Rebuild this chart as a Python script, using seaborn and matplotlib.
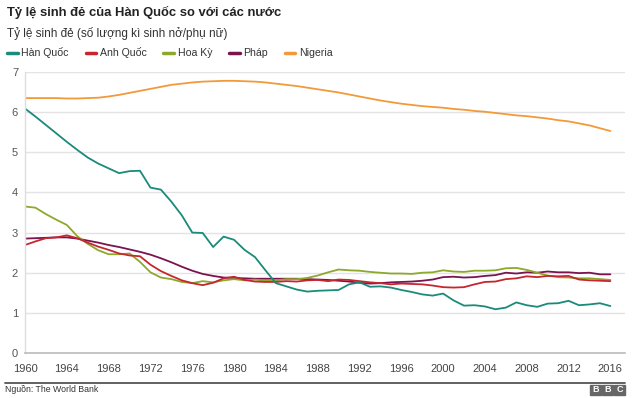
import pandas as pd
import seaborn as sns
from matplotlib import pyplot as plt
from matplotlib.patches import Rectangle
from matplotlib.lines import Line2D

# years and fertility rates (births per woman)
years = list(range(1960, 2017))

han_quoc = [6.09, 5.89, 5.68, 5.47, 5.26, 5.06, 4.87, 4.72, 4.60, 4.48,
            4.53, 4.54, 4.12, 4.07, 3.77, 3.43, 3.00, 2.99, 2.64, 2.90,
            2.82, 2.57, 2.39, 2.06, 1.74, 1.66, 1.58, 1.53, 1.55, 1.56,
            1.57, 1.71, 1.76, 1.65, 1.66, 1.63, 1.57, 1.52, 1.46, 1.43,
            1.48, 1.31, 1.18, 1.19, 1.16, 1.09, 1.13, 1.26, 1.19, 1.15,
            1.23, 1.24, 1.30, 1.19, 1.21, 1.24, 1.17]

anh_quoc = [2.69, 2.78, 2.86, 2.88, 2.93, 2.86, 2.75, 2.65, 2.57, 2.48,
            2.43, 2.41, 2.20, 2.04, 1.92, 1.81, 1.74, 1.69, 1.75, 1.86,
            1.90, 1.82, 1.78, 1.77, 1.77, 1.79, 1.78, 1.81, 1.82, 1.79,
            1.83, 1.82, 1.79, 1.76, 1.74, 1.71, 1.73, 1.72, 1.71, 1.68,
            1.64, 1.63, 1.64, 1.71, 1.77, 1.78, 1.84, 1.86, 1.91, 1.89,
            1.92, 1.91, 1.92, 1.83, 1.81, 1.80, 1.79]

hoa_ky = [3.65, 3.62, 3.46, 3.32, 3.19, 2.91, 2.72, 2.56, 2.46, 2.46,
          2.48, 2.27, 2.01, 1.88, 1.84, 1.77, 1.74, 1.79, 1.76, 1.81,
          1.84, 1.81, 1.83, 1.80, 1.81, 1.84, 1.84, 1.87, 1.93, 2.01,
          2.08, 2.06, 2.05, 2.02, 2.00, 1.98, 1.98, 1.97, 2.00, 2.01,
          2.06, 2.03, 2.02, 2.05, 2.05, 2.06, 2.11, 2.12, 2.07, 2.00,
          1.93, 1.89, 1.88, 1.86, 1.86, 1.84, 1.82]

phap = [2.85, 2.86, 2.87, 2.88, 2.88, 2.85, 2.80, 2.75, 2.69, 2.64,
        2.58, 2.52, 2.45, 2.36, 2.26, 2.15, 2.05, 1.97, 1.92, 1.88,
        1.87, 1.86, 1.85, 1.85, 1.85, 1.85, 1.85, 1.84, 1.83, 1.82,
        1.80, 1.78, 1.75, 1.73, 1.74, 1.76, 1.77, 1.78, 1.80, 1.83,
        1.89, 1.90, 1.88, 1.89, 1.92, 1.94, 2.00, 1.98, 2.01, 2.00,
        2.03, 2.01, 2.01, 1.99, 2.00, 1.96, 1.96]

nigeria = [6.35, 6.35, 6.35, 6.35, 6.34, 6.34, 6.35, 6.36, 6.39, 6.43,
           6.48, 6.53, 6.58, 6.63, 6.68, 6.71, 6.74, 6.76, 6.77, 6.78,
           6.78, 6.77, 6.76, 6.74, 6.71, 6.68, 6.65, 6.61, 6.57, 6.53,
           6.49, 6.44, 6.39, 6.34, 6.29, 6.25, 6.21, 6.18, 6.15, 6.13,
           6.11, 6.08, 6.06, 6.03, 6.01, 5.98, 5.95, 5.92, 5.90, 5.87,
           5.84, 5.80, 5.77, 5.72, 5.67, 5.60, 5.53]

countries = ['Hàn Quốc', 'Anh Quốc', 'Hoa Kỳ', 'Pháp', 'Nigeria']
colors = ['#1a8a7a', '#c6262e', '#8ea82c', '#7a1350', '#f29a3a']
x_ticks = list(range(1960, 2017, 4))
y_ticks = list(range(0, 8))

# long form table for seaborn
series = [han_quoc, anh_quoc, hoa_ky, phap, nigeria]
rows = []
for name, vals in zip(countries, series):
    for yr, v in zip(years, vals):
        rows.append({'year': yr, 'rate': v, 'country': name})
df = pd.DataFrame(rows)

sns.set_style('white')
plt.rcParams['font.family'] = ['Liberation Sans', 'DejaVu Sans']

fig = plt.figure(figsize=(6.4, 3.98), dpi=100)
ax = fig.add_axes([25/640, 1 - 353/398, 600/640, 281/398])

# draw in reverse so Korea sits on top
for name, col in list(zip(countries, colors))[::-1]:
    sub = df[df.country == name]
    sns.lineplot(data=sub, x='year', y='rate', color=col, linewidth=1.3, ax=ax)

ax.set_xlim(1960, 2017.4)
ax.set_ylim(0, 7)
ax.set_xticks(x_ticks)
ax.set_yticks(y_ticks)
ax.set_xlabel('')
ax.set_ylabel('')
ax.grid(axis='y', color='#e3e3e3', linewidth=1)
ax.grid(axis='x', visible=False)
for s in ['top', 'right']:
    ax.spines[s].set_visible(False)
ax.spines['left'].set_color('#dddddd')
ax.spines['bottom'].set_color('#bbbbbb')
ax.spines['left'].set_linewidth(1)
ax.spines['bottom'].set_linewidth(1.2)
ax.tick_params(axis='y', length=4, color='#cccccc', labelsize=8, labelcolor='#555555', pad=1)
ax.tick_params(axis='x', length=0, labelsize=8, labelcolor='#444444', pad=8)

# legend
handles = [Line2D([0], [0], color=c, linewidth=2.5) for c in colors]
fig.legend(handles, countries, loc='center left', bbox_to_anchor=(0.011, 1 - 53/398),
           ncol=5, frameon=False, fontsize=7.6, handlelength=1.0, handletextpad=0.35,
           columnspacing=1.6, labelcolor='#333333', borderaxespad=0, borderpad=0)

fig.text(7/640, 1 - 12/398, 'Tỷ lệ sinh đẻ của Hàn Quốc so với các nước',
         fontsize=9.4, fontweight='bold', va='center', color='#222222')
fig.text(7/640, 1 - 33/398, 'Tỷ lệ sinh đẻ (số lượng kì sinh nở/phụ nữ)',
         fontsize=8.5, va='center', color='#333333')

# footer
fig.add_artist(Line2D([5/640, 625/640], [1 - 383/398, 1 - 383/398],
                      color='#555555', linewidth=1.3))
fig.text(5/640, 1 - 390/398, 'Nguồn: The World Bank', fontsize=6.3,
         va='center', color='#333333')
for i, letter in enumerate('BBC'):
    x0 = 590/640 + i * 12/640
    fig.add_artist(Rectangle((x0, 1 - 395/398), 11/640, 10/398,
                             transform=fig.transFigure, color='#666666'))
    fig.text(x0 + 5.5/640, 1 - 390/398, letter, fontsize=6.5, fontweight='bold',
             color='white', ha='center', va='center')

fig.savefig('out.png', dpi=100)
